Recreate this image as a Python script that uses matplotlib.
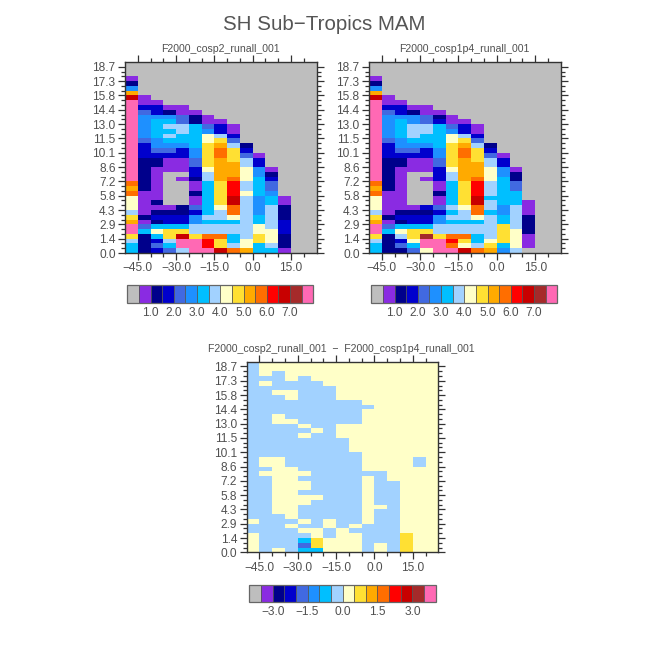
import numpy as np
import matplotlib
matplotlib.use('Agg')
import matplotlib.pyplot as plt
from matplotlib.colors import ListedColormap, BoundaryNorm
from matplotlib.cm import ScalarMappable
from matplotlib.ticker import FixedLocator

plt.rcParams['font.family'] = ['Liberation Sans', 'DejaVu Sans']

# Colour classes, one hex digit per cell, each string is one longitude bin from the surface up
cosp2 = [
    "6679ffa97888bab" "fffffffffffffffff" "da521",
    "2222641211111222222233345555543" "11",
    "3436862321" "2111111122" "3455666653" "31",
    "4679963321" "0000000111" "3456767652" "1",
    "7ffd963322" "0000010111" "3356677441" "1",
    "fff9775534" "1121123344" "5566666221",
    "fccb776766" "6666677899" "999885411",
    "d99b776778" "99999aaaaa" "bba97331",
    "b7667768bb" "ddcccbaaa9" "9974311",
    "a887777777" "7787788877" "432",
    "6699886655" "5566665533" "1",
    "6788877777" "66544321",
    "1222333222" "11",
    "",
    "",
]
cosp1p4 = [
    "6679ffa97888bab" "fffffffffffffffff" "da521",
    "2222641211111222222233345555543" "11",
    "2437862321" "1111111122" "3455666653" "31",
    "4689963321" "0000000111" "3456777552" "1",
    "8ffe963323" "0000010111" "3356677441" "1",
    "fff9775534" "1121133344" "5566666321",
    "fbcb776767" "6666677899" "999885411",
    "d89b776778" "99999aaaaa" "bba97331",
    "b7667768bb" "ddcccbaaa9" "9974311",
    "a987777767" "7677788877" "432",
    "5699996655" "6666665533" "1",
    "7888877777" "66644221",
    "0111222211" "1",
    "",
    "",
]
difference = [
    "8888778777" "7777777777" "7777777777" "7777777777",
    "7777777777" "7777778788" "7777777777" "7777787888",
    "8777777788" "8888888888" "7777777887" "7778777788",
    "7777787888" "8888888877" "7777777877" "7788778888",
    "6467878777" "8878878777" "7777878777" "7777777888",
    "6998877777" "7877777777" "7777787777" "7777778888",
    "8887788777" "7777777777" "7777777777" "7777788888",
    "8888877777" "7777777777" "7777888777" "7788888888",
    "8888787777" "7777777777" "7888888777" "7788888888",
    "7777778888" "8888887888" "8888888888" "7888888888",
    "8877777778" "7777777888" "8888888888" "8888888888",
    "7777777777" "7777788888" "8888888888" "8888888888",
    "9999888888" "8888888888" "8888888888" "8888888888",
    "8888888888" "8888888877" "8888888888" "8888888888",
    "8888888888" "8888888888" "8888888888" "8888888888",
]

lon_edges = np.arange(-50, 30, 5)
height_edges = 0.48 * np.arange(41)

lon_ticks = [-45, -30, -15, 0, 15]
lon_labels = ['\u221245.0', '\u221230.0', '\u221215.0', '0.0', '15.0']
height_labels = ['0.0', '1.4', '2.9', '4.3', '5.8', '7.2', '8.6', '10.1', '11.5',
                 '13.0', '14.4', '15.8', '17.3', '18.7']

colors = ['#bebebe', '#8a2be2', '#00008b', '#0000cd', '#4169e1', '#1e90ff', '#00bfff', '#a2d2ff',
          '#ffffc8', '#ffe033', '#ffaa00', '#ff6e00', '#ff0000', '#c80000', '#a52a2a', '#ff69b4']
cmap = ListedColormap(colors)

levels = np.arange(0, 8.5, 0.5)
levels_diff = np.arange(-4, 4.5, 0.5)
bar_ticks = [1, 2, 3, 4, 5, 6, 7]
bar_labels = ['1.0', '2.0', '3.0', '4.0', '5.0', '6.0', '7.0']
bar_ticks_diff = [-3, -1.5, 0, 1.5, 3]
bar_labels_diff = ['\u22123.0', '\u22121.5', '0.0', '1.5', '3.0']

ink = '#333333'
text_color = '#505050'


def to_values(columns, bounds):
    # every cell sits in the middle of its colour class
    grid = np.zeros((40, 15), dtype=int)
    for i, col in enumerate(columns):
        grid[:, i] = [int(c, 16) for c in col.ljust(40, '0')]
    return bounds[grid] + 0.25


def axes_px(fig, x0, y0, x1, y1):
    return fig.add_axes([x0 / 648, 1 - y1 / 648, (x1 - x0) / 648, (y1 - y0) / 648])


def panel(fig, box, columns, bounds, title, title_x):
    ax = axes_px(fig, *box)
    norm = BoundaryNorm(bounds, cmap.N)
    ax.pcolormesh(lon_edges, height_edges, to_values(columns, bounds), cmap=cmap, norm=norm)
    ax.set_xlim(-50, 25)
    ax.set_ylim(0, 19.2)
    ax.xaxis.set_major_locator(FixedLocator(lon_ticks))
    ax.xaxis.set_minor_locator(FixedLocator(lon_edges[1:-1]))
    ax.yaxis.set_major_locator(FixedLocator(1.44 * np.arange(14)))
    ax.yaxis.set_minor_locator(FixedLocator(height_edges[1:-1]))
    ax.set_xticklabels(lon_labels, fontsize=8.6, color=text_color)
    ax.set_yticklabels(height_labels, fontsize=8.6, color=text_color)
    ax.tick_params(which='major', direction='out', length=4.8, width=0.9, color=ink,
                   top=True, right=True, pad=2.0)
    ax.tick_params(which='minor', direction='out', length=3.0, width=0.9, color=ink,
                   top=True, right=True)
    for s in ax.spines.values():
        s.set_linewidth(1.0)
        s.set_color(ink)
    fig.text(title_x / 648, 1 - (box[1] - 12.5) / 648, title, ha='center', va='center',
             fontsize=7.6, color=text_color)
    return norm


def bar(fig, box, norm, ticks, labels):
    cax = axes_px(fig, *box)
    cb = fig.colorbar(ScalarMappable(norm=norm, cmap=cmap), cax=cax, orientation='horizontal',
                      drawedges=True, spacing='uniform')
    cb.set_ticks(ticks)
    cb.set_ticklabels(labels, fontsize=8.6, color=text_color)
    cb.ax.tick_params(length=0, pad=3)
    cb.ax.minorticks_off()
    cb.outline.set_edgecolor('#666666')
    cb.outline.set_linewidth(0.9)
    cb.dividers.set_color('#555555')
    cb.dividers.set_linewidth(0.6)


fig = plt.figure(figsize=(6.48, 6.48), dpi=100)
fig.text(324.5 / 648, 1 - 25 / 648, 'SH Sub\u2212Tropics MAM', ha='center', va='center',
         fontsize=14.8, color='#555555')

name_a = 'F2000_cosp2_runall_001'
name_b = 'F2000_cosp1p4_runall_001'

n1 = panel(fig, (125, 62, 316.5, 253), cosp2, levels, name_a, 220.5)
bar(fig, (127.3, 285.3, 313.3, 302.7), n1, bar_ticks, bar_labels)

n2 = panel(fig, (369, 62, 560.7, 253), cosp1p4, levels, name_b, 464.5)
bar(fig, (371.3, 285.3, 557.3, 302.7), n2, bar_ticks, bar_labels)

n3 = panel(fig, (246.7, 361.7, 438.3, 552.3), difference, levels_diff,
           name_a + '  \u2212  ' + name_b, 341.5)
bar(fig, (249.3, 584.7, 435.7, 602.3), n3, bar_ticks_diff, bar_labels_diff)

fig.savefig('out.png', dpi=100)
